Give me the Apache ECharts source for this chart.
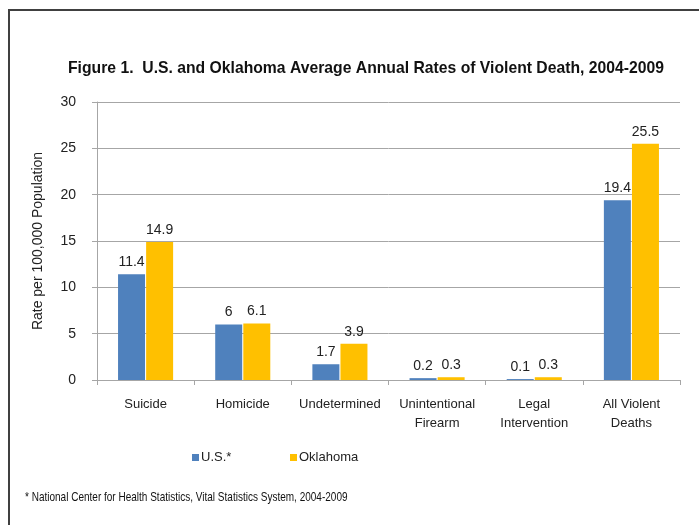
<!DOCTYPE html>
<html>
<head>
<meta charset="utf-8">
<script src="https://cdn.jsdelivr.net/npm/echarts@6/dist/echarts.min.js"></script>
<style>
  html, body { margin: 0; padding: 0; background: #fff; }
  #main { width: 699px; height: 525px; }
</style>
</head>
<body>
<div id="main"></div>
<script>
var categories = ['Suicide', 'Homicide', 'Undetermined', 'Unintentional\nFirearm', 'Legal\nIntervention', 'All Violent\nDeaths'];
var usRates = [11.4, 6, 1.7, 0.2, 0.1, 19.4];
var okRates = [14.9, 6.1, 3.9, 0.3, 0.3, 25.5];

var font = "'Liberation Sans Narrow', 'Arial Narrow', 'Liberation Sans', Arial, sans-serif";

var myChart = echarts.init(document.getElementById('main'), null, { renderer: 'canvas' });

var legendText = { fontFamily: font, fontSize: 13, color: '#222', padding: [0, 0, 0, -3] };

var option = {
  backgroundColor: '#fff',
  textStyle: { fontFamily: font },
  legend: [
    {
      top: 446, left: 187,
      itemWidth: 7, itemHeight: 7, icon: 'rect',
      textStyle: legendText,
      data: ['U.S.*']
    },
    {
      top: 446, left: 285,
      itemWidth: 7, itemHeight: 7, icon: 'rect',
      textStyle: legendText,
      data: ['Oklahoma']
    }
  ],
  grid: { left: 97, right: 19, top: 102, bottom: 145, containLabel: false },
  xAxis: {
    type: 'category',
    data: categories,
    axisLine: { lineStyle: { color: '#a6a6a6' } },
    axisTick: { show: true, length: 5, lineStyle: { color: '#a6a6a6' } },
    axisLabel: { fontFamily: font, fontSize: 13, color: '#222', margin: 15, lineHeight: 19, interval: 0 }
  },
  yAxis: {
    type: 'value',
    min: 0,
    max: 30,
    interval: 5,
    name: 'Rate per 100,000 Population',
    nameLocation: 'middle',
    nameGap: 52,
    nameTextStyle: { fontFamily: font, fontSize: 14, color: '#222' },
    axisLine: { show: true, lineStyle: { color: '#a6a6a6' } },
    axisTick: { show: true, length: 5, lineStyle: { color: '#a6a6a6' } },
    axisLabel: { fontFamily: font, fontSize: 14, color: '#222', margin: 21 },
    splitLine: { lineStyle: { color: '#a6a6a6' } }
  },
  series: [
    {
      name: 'U.S.*',
      type: 'bar',
      data: usRates,
      barWidth: 27,
      barGap: '4%',
      itemStyle: { color: '#4f81bd' },
      label: { show: true, position: 'top', distance: 5, fontFamily: font, fontSize: 14, color: '#222' }
    },
    {
      name: 'Oklahoma',
      type: 'bar',
      data: okRates,
      barWidth: 27,
      itemStyle: { color: '#ffc000' },
      label: { show: true, position: 'top', distance: 5, fontFamily: font, fontSize: 14, color: '#222' }
    }
  ],
  graphic: [
    {
      type: 'polyline',
      shape: { points: [[9, 525], [9, 10], [699, 10]] },
      style: { stroke: '#404040', lineWidth: 2, fill: null }
    },
    {
      type: 'text',
      x: 366,
      y: 68,
      scaleX: 0.925,
      style: {
        text: 'Figure 1.  U.S. and Oklahoma Average Annual Rates of Violent Death, 2004-2009',
        fontFamily: font,
        fontSize: 17,
        fontWeight: 'bold',
        fill: '#111',
        align: 'center',
        verticalAlign: 'middle'
      }
    },
    {
      type: 'text',
      x: 25,
      y: 497,
      scaleX: 0.77,
      style: {
        text: '* National Center for Health Statistics, Vital Statistics System, 2004-2009',
        fontFamily: font,
        fontSize: 13,
        fill: '#111',
        align: 'left',
        verticalAlign: 'middle'
      }
    }
  ]
};

myChart.setOption(option);
window.addEventListener('resize', myChart.resize);
</script>
</body>
</html>
